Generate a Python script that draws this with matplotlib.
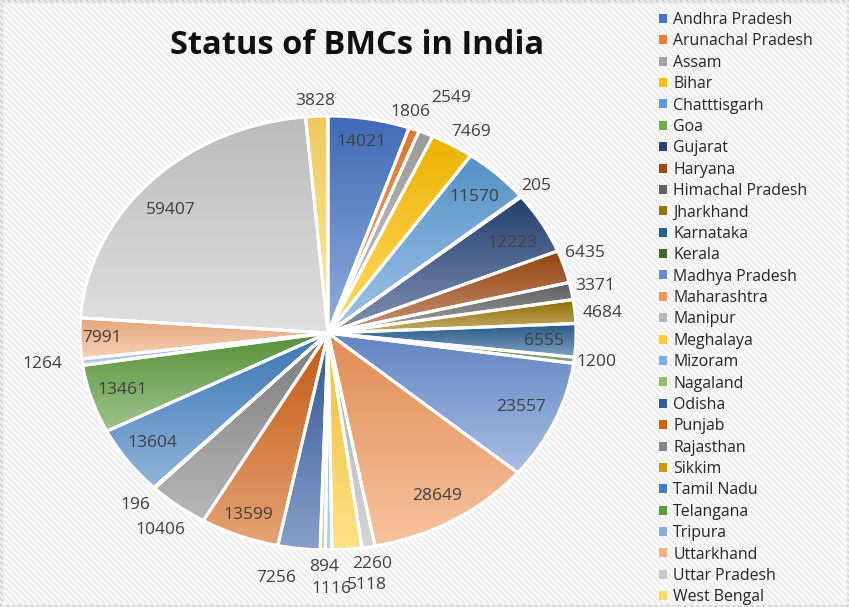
import numpy as np
import matplotlib
matplotlib.use("Agg")
import matplotlib.pyplot as plt
from matplotlib.patches import Wedge, Rectangle
from matplotlib.colors import to_rgb

states = ["Andhra Pradesh", "Arunachal Pradesh", "Assam", "Bihar", "Chatttisgarh", "Goa",
          "Gujarat", "Haryana", "Himachal Pradesh", "Jharkhand", "Karnataka", "Kerala",
          "Madhya Pradesh", "Maharashtra", "Manipur", "Meghalaya", "Mizoram", "Nagaland",
          "Odisha", "Punjab", "Rajasthan", "Sikkim", "Tamil Nadu", "Telangana", "Tripura",
          "Uttarkhand", "Uttar Pradesh", "West Bengal"]
bmcs = [14021, 1806, 2549, 7469, 11570, 205, 12223, 6435, 3371, 4684, 6555, 1200,
        23557, 28649, 2260, 5118, 1116, 894, 7256, 13599, 10406, 196, 13604, 13461,
        1264, 7991, 59407, 3828]
title = "Status of BMCs in India"

colors = ["#4472C4", "#ED7D31", "#A5A5A5", "#FFC000", "#5B9BD5", "#70AD47",
          "#264478", "#9E480E", "#636363", "#997300", "#255E91", "#43682B",
          "#698ED0", "#F1975A", "#B7B7B7", "#FFCD33", "#7CAFDD", "#8CC168",
          "#335AA1", "#D26012", "#848484", "#CC9A00", "#3F7FC0", "#5A9A3A",
          "#8FAADC", "#F4B183", "#C9C9C9", "#FFD966"]

# label placement style: radius factor and small angle nudge (degrees, clockwise)
lab_r = [0.89, 1.07, 1.19, 1.09, 0.86, 1.08, 0.85, 1.10, 1.10, 1.11, 0.87, 1.09,
         0.85, 0.87, 1.08, 1.17, 1.18, 1.08, 1.15, 0.90, 1.13, 1.11, 0.87, 0.87,
         1.16, 0.91, 0.85, 1.07]
lab_dt = [-0.7, -2.3, 1.4, 1.8, 0.4, 0, 1.3, -1.7, -0.3, 1.0, 0.4, -0.2,
          -0.5, 0.2, 0, -3.3, -0.6, -0.3, 3.8, 0.1, -0.6, 0, 0.4, 0.1,
          0.6, 0, -2.7, -0.2]

W, H = 849, 607
fig = plt.figure(figsize=(W / 100, H / 100), dpi=100)
fig.patch.set_facecolor("white")

# background with faint diagonal stripes and a light border
bg = fig.add_axes([0, 0, 1, 1], zorder=-10)
bg.set_xlim(0, W); bg.set_ylim(0, H); bg.axis("off")
for k in np.arange(-H, W + H, 6):
    bg.plot([k, k + H], [H, 0], color="#EEEEEE", lw=2.0, solid_capstyle="butt")
bg.add_patch(Rectangle((1, 1), W - 2, H - 2, fill=False, ec="#D0D0D0", lw=2.5))

# pie axes (stretched ellipse like the reference)
cx, cy, rx, ry = 328, 333, 248, 217
ax = fig.add_axes([(cx - rx) / W, (H - cy - ry) / H, 2 * rx / W, 2 * ry / H])
wedges, _ = ax.pie(bmcs, colors=colors, startangle=90, counterclock=False,
                   radius=1.0, wedgeprops=dict(linewidth=0))
ax.set_aspect("auto")
ax.axis("off")

# gradient fill per wedge (base at top -> lighter at bottom)
for w, c in zip(wedges, colors):
    base = np.array(to_rgb(c))
    dark = base * 0.93
    light = base + (1 - base) * 0.42
    t = np.linspace(0, 1, 64)[:, None]
    grad = dark[None, :] * (1 - t) + light[None, :] * t
    img = np.repeat(grad[:, None, :], 2, axis=1)
    pts = w.get_patch_transform().transform(w.get_path().vertices)
    x0, x1 = pts[:, 0].min(), pts[:, 0].max()
    y0, y1 = pts[:, 1].min(), pts[:, 1].max()
    im = ax.imshow(img, extent=[x0, x1, y0, y1], origin="upper", aspect="auto",
                   interpolation="bilinear", zorder=2)
    im.set_clip_path(w)
    ax.add_patch(Wedge(w.center, w.r, w.theta1, w.theta2, fill=False,
                       ec="white", lw=2.2, zorder=3))
ax.set_xlim(-1, 1); ax.set_ylim(-1, 1)
ax.set_aspect("auto")

# data labels
total = float(sum(bmcs))
cum = np.cumsum([0] + bmcs)
for i, v in enumerate(bmcs):
    mid = (cum[i] + cum[i + 1]) / 2 / total * 360 + lab_dt[i]
    th = np.deg2rad(mid)
    ax.text(lab_r[i] * np.sin(th), lab_r[i] * np.cos(th), str(v), ha="center",
            va="center", fontsize=12.5, color="#404040", family="Open Sans",
            zorder=5, clip_on=False)

fig.text(357 / W, 1 - 46 / H, title, ha="center", va="center", fontsize=23.5,
         fontweight="bold", family="Open Sans", color="#111111")

# legend
leg_handles = [Rectangle((0, 0), 1, 1, fc=c, ec="none") for c in colors]
fig.legend(leg_handles, states, loc="upper left", bbox_to_anchor=(659 / W, 1 - 12 / H),
           frameon=False, handlelength=0.5, handleheight=0.5, handletextpad=0.4,
           labelspacing=0.34, prop=dict(family="Open Sans", size=11.4), labelcolor="#262626",
           borderaxespad=0, borderpad=0)

fig.savefig("out.png", dpi=100)
